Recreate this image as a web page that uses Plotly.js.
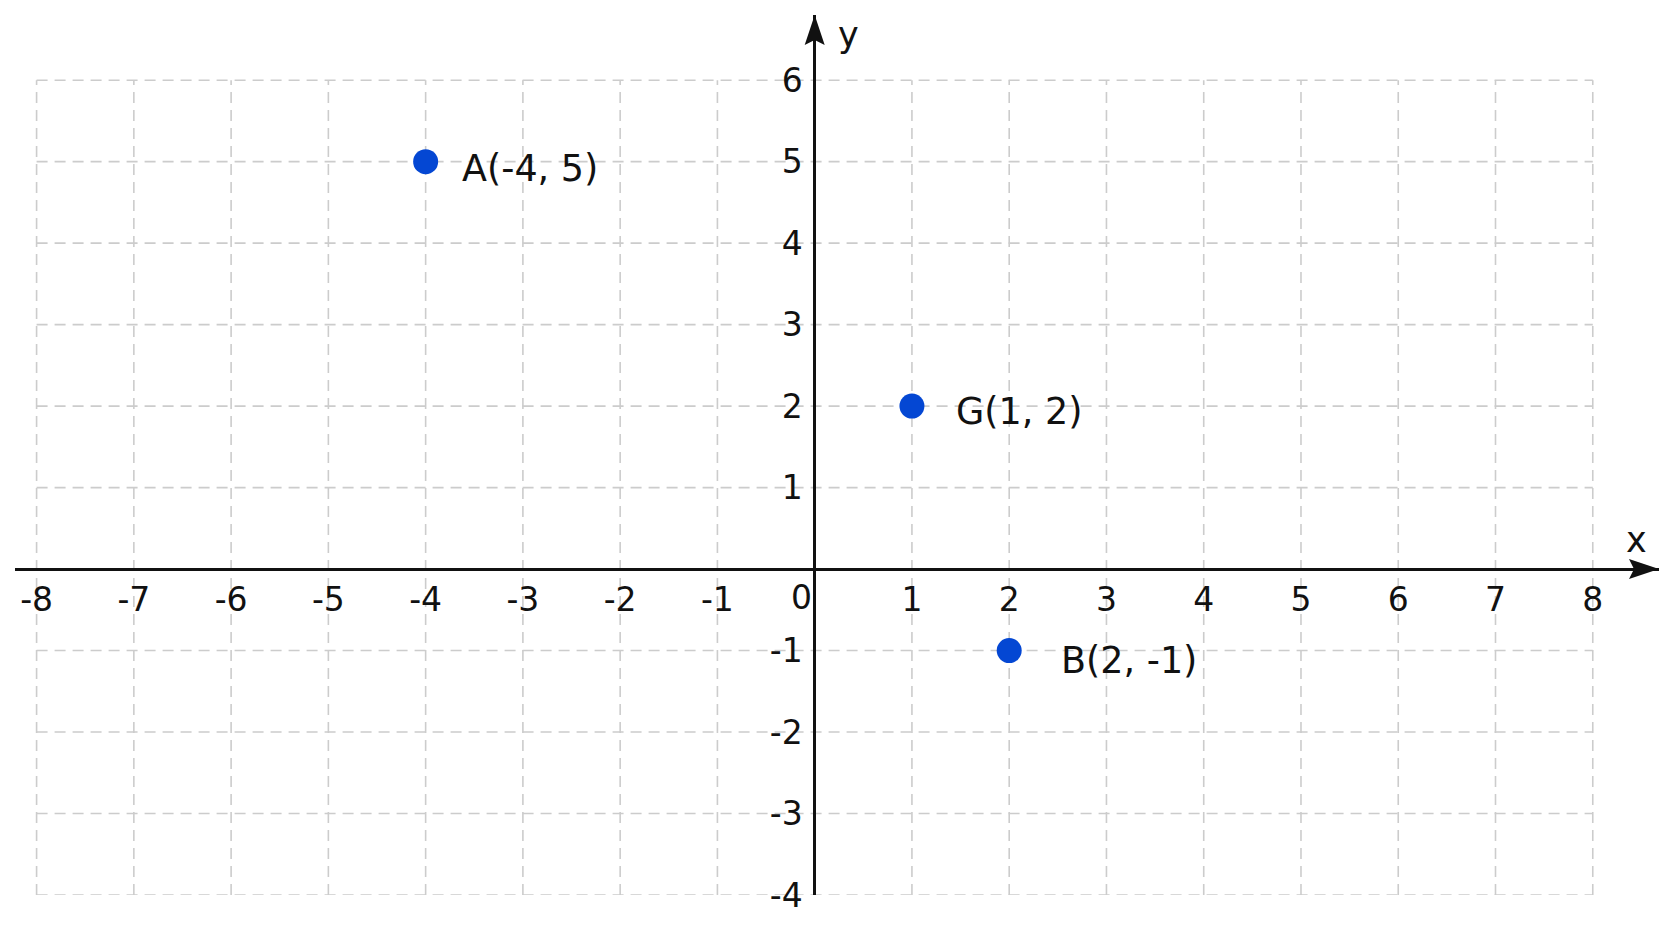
<!DOCTYPE html>
<html>
<head>
<meta charset="utf-8">
<script src="https://cdn.plot.ly/plotly-3.0.1.min.js"></script>
<style>
  html, body { margin: 0; padding: 0; background: #ffffff; }
  #chart { width: 1672px; height: 941px; }
</style>
</head>
<body>
<div id="chart"></div>
<script>
// ---- data ----
const pointNames = ['A', 'G', 'B'];
const pointX = [-4, 1, 2];
const pointY = [5, 2, -1];

const gridX = [-8, -7, -6, -5, -4, -3, -2, -1, 0, 1, 2, 3, 4, 5, 6, 7, 8];
const gridY = [-4, -3, -2, -1, 0, 1, 2, 3, 4, 5, 6];

const xTickVals = [-8, -7, -6, -5, -4, -3, -2, -1, 1, 2, 3, 4, 5, 6, 7, 8];
const xTickText = ['-8', '-7', '-6', '-5', '-4', '-3', '-2', '-1', '1', '2', '3', '4', '5', '6', '7', '8'];
const yTickVals = [-4, -3, -2, -1, 1, 2, 3, 4, 5, 6];
const yTickText = ['-4', '-3', '-2', '-1', '1', '2', '3', '4', '5', '6'];
const originLabel = '0';
const xAxisName = 'x';
const yAxisName = 'y';

// ---- style ----
const FONT = 'DejaVu Sans, Verdana, sans-serif';
const INK = '#111111';
const DOT = '#0447d3';
const GRID = '#cccccc';
const X_RANGE = [-8.222, 8.681];
const Y_RANGE = [-4, 6.8];
// label placement nudges (pixels) per point name
const labelNudge = { A: [34, -7], G: [42, -5], B: [50, -10] };

const gxMin = Math.min(...gridX), gxMax = Math.max(...gridX);
const gyMin = Math.min(...gridY), gyMax = Math.max(...gridY);

const shapes = [];
gridX.forEach(v => shapes.push({
  type: 'line', xref: 'x', yref: 'y', x0: v, x1: v, y0: gyMin, y1: gyMax,
  line: { color: GRID, width: 1.6, dash: '11px,7px' }, layer: 'below'
}));
gridY.forEach(v => shapes.push({
  type: 'line', xref: 'x', yref: 'y', x0: gxMin, x1: gxMax, y0: v, y1: v,
  line: { color: GRID, width: 1.6, dash: '11px,7px' }, layer: 'below'
}));
// arrowheads (pixel-sized, anchored at axis ends)
shapes.push({
  type: 'path', xref: 'x', yref: 'y', xsizemode: 'pixel', ysizemode: 'pixel',
  xanchor: X_RANGE[1], yanchor: 0,
  path: 'M0,0 L-30,10 L-25,0 L-30,-10 Z', fillcolor: INK, line: { width: 0 }, layer: 'above'
});
shapes.push({
  type: 'path', xref: 'x', yref: 'y', xsizemode: 'pixel', ysizemode: 'pixel',
  xanchor: 0, yanchor: Y_RANGE[1],
  path: 'M0,0 L-10,-30 L0,-25 L10,-30 Z', fillcolor: INK, line: { width: 0 }, layer: 'above'
});

const annotations = pointX.map((x, i) => ({
  x: x, y: pointY[i], xref: 'x', yref: 'y',
  text: pointNames[i] + '(' + x + ', ' + pointY[i] + ')',
  showarrow: false, xanchor: 'left', yanchor: 'middle',
  xshift: labelNudge[pointNames[i]][0], yshift: labelNudge[pointNames[i]][1],
  font: { family: FONT, size: 36.5, color: INK }
}));
annotations.push({
  x: 0, y: 0, xref: 'x', yref: 'y', text: originLabel, showarrow: false,
  xanchor: 'center', yanchor: 'middle', xshift: -13, yshift: -28,
  font: { family: FONT, size: 33, color: INK }
});
annotations.push({
  x: 8.45, y: 0.362, xref: 'x', yref: 'y', text: xAxisName, showarrow: false,
  xanchor: 'center', yanchor: 'middle', font: { family: FONT, size: 35, color: INK }
});
annotations.push({
  x: 0.35, y: 6.56, xref: 'x', yref: 'y', text: yAxisName, showarrow: false,
  xanchor: 'center', yanchor: 'middle', font: { family: FONT, size: 35, color: INK }
});

const trace = {
  type: 'scatter', mode: 'markers', x: pointX, y: pointY,
  marker: { size: 25, color: DOT, line: { width: 0 } },
  cliponaxis: false, hoverinfo: 'skip', showlegend: false
};

const layout = {
  width: 1672, height: 941,
  margin: { l: 15, r: 13, t: 14.5, b: 46, pad: 0 },
  paper_bgcolor: '#ffffff', plot_bgcolor: '#ffffff',
  showlegend: false,
  xaxis: {
    range: X_RANGE, anchor: 'free',
    position: (0 - Y_RANGE[0]) / (Y_RANGE[1] - Y_RANGE[0]),
    showgrid: false, showline: false,
    zeroline: true, zerolinecolor: INK, zerolinewidth: 3,
    tickmode: 'array', tickvals: xTickVals, ticktext: xTickText,
    ticks: '', ticklabelstandoff: 8,
    tickfont: { family: FONT, size: 33, color: INK }, fixedrange: true
  },
  yaxis: {
    range: Y_RANGE, anchor: 'free',
    position: (0 - X_RANGE[0]) / (X_RANGE[1] - X_RANGE[0]),
    showgrid: false, showline: false,
    zeroline: true, zerolinecolor: INK, zerolinewidth: 3,
    tickmode: 'array', tickvals: yTickVals, ticktext: yTickText,
    ticks: '', ticklabelstandoff: 12,
    tickfont: { family: FONT, size: 33, color: INK }, fixedrange: true
  },
  shapes: shapes,
  annotations: annotations
};

Plotly.newPlot('chart', [trace], layout, { displayModeBar: false, staticPlot: true });
</script>
</body>
</html>
